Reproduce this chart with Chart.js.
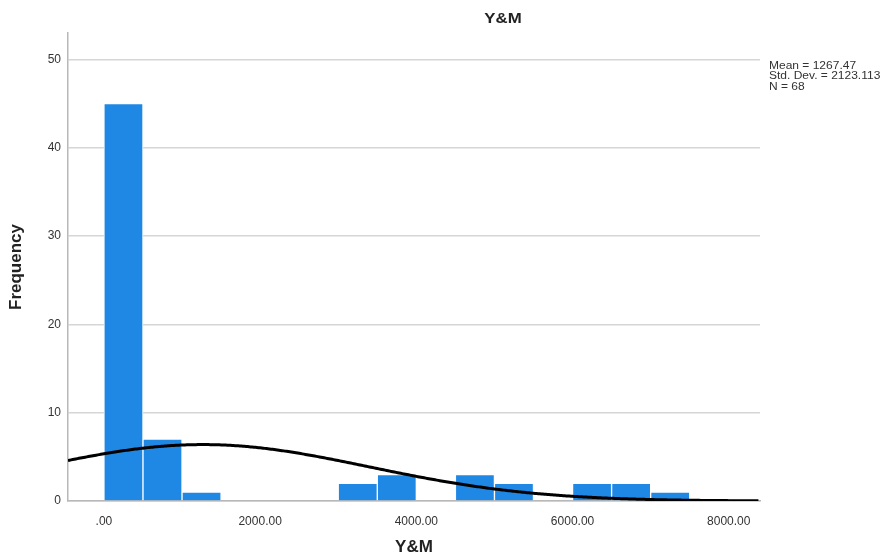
<!DOCTYPE html>
<html>
<head>
<meta charset="utf-8">
<script src="https://cdn.jsdelivr.net/npm/chart.js@4"></script>
<style>
  html, body { margin: 0; padding: 0; background: #fff; }
  #wrap { width: 890px; height: 559px; }
</style>
</head>
<body>
<div id="wrap"><canvas id="c" width="890" height="559"></canvas></div>
<script>
// Histogram of Y&M (bin width 500)
const binStarts = [0, 500, 1000, 1500, 2000, 2500, 3000, 3500, 4000, 4500, 5000, 5500, 6000, 6500, 7000];
const counts    = [45, 7, 1, 0, 0, 0, 2, 3, 0, 3, 2, 0, 2, 2, 1];
const binWidth = 500;

// Summary statistics shown beside the plot
const statMean = 1267.47;
const statSD = 2123.113;
const statN = 68;
const statLines = ['Mean = 1267.47', 'Std. Dev. = 2123.113', 'N = 68'];

const xTickValues = [0, 2000, 4000, 6000, 8000];
const xTickLabels = ['.00', '2000.00', '4000.00', '6000.00', '8000.00'];
const yTickValues = [0, 10, 20, 30, 40, 50];

const xMin = -460, xMax = 8400;
const yMin = 0, yMax = 53;

const barData = binStarts
  .map((s, i) => ({ x: s + binWidth / 2, y: counts[i] }))
  .filter(d => d.y > 0);

// Fitted normal curve, scaled to counts per bin
const curveData = [];
for (let x = xMin; x <= xMax; x += 40) {
  const z = (x - statMean) / statSD;
  const y = statN * binWidth / (statSD * Math.sqrt(2 * Math.PI)) * Math.exp(-0.5 * z * z);
  curveData.push({ x, y });
}

const FONT = "'Liberation Sans', Arial, sans-serif";

// Chart title and the statistics block (drawn slightly widened)
const annotations = {
  id: 'annotations',
  afterDraw(chart) {
    const ctx = chart.ctx;
    ctx.save();
    ctx.fillStyle = '#222';
    ctx.font = "bold 14px " + FONT;
    ctx.textAlign = 'center';
    ctx.textBaseline = 'middle';
    ctx.save();
    ctx.translate(503, 19);
    ctx.scale(1.2, 1);
    ctx.fillText('Y&M', 0, 0);
    ctx.restore();

    ctx.font = "10px " + FONT;
    ctx.fillStyle = '#333';
    ctx.textAlign = 'left';
    statLines.forEach((t, i) => {
      ctx.save();
      ctx.translate(769, 66 + i * 10.5);
      ctx.scale(1.2, 1);
      ctx.fillText(t, 0, 0);
      ctx.restore();
    });
    ctx.restore();
  }
};

new Chart(document.getElementById('c'), {
  type: 'bar',
  data: {
    datasets: [
      {
        type: 'line',
        data: curveData,
        borderColor: '#000',
        borderWidth: 3,
        pointRadius: 0,
        tension: 0.3,
        fill: false,
        order: 0
      },
      {
        type: 'bar',
        data: barData,
        backgroundColor: '#1f88e5',
        borderColor: '#ffffff',
        borderWidth: 1,
        borderSkipped: 'bottom',
        barPercentage: 1,
        categoryPercentage: 1,
        order: 1
      }
    ]
  },
  options: {
    responsive: false,
    animation: false,
    layout: { padding: { left: 0, right: 130, top: 33, bottom: 0 } },
    plugins: { legend: { display: false }, tooltip: { enabled: false }, title: { display: false } },
    scales: {
      x: {
        type: 'linear',
        min: xMin,
        max: xMax,
        offset: false,
        grid: { display: false },
        border: { display: true, color: '#b8b8b8', width: 1.5 },
        afterBuildTicks(scale) { scale.ticks = xTickValues.map(v => ({ value: v })); },
        afterFit(scale) { scale.height = 58; },
        ticks: {
          padding: 5,
          color: '#333',
          font: { family: FONT, size: 12 },
          autoSkip: false,
          maxRotation: 0,
          callback(value) {
            const i = xTickValues.indexOf(value);
            return i >= 0 ? xTickLabels[i] : '';
          }
        },
        title: {
          display: true,
          text: 'Y&M',
          color: '#222',
          font: { family: FONT, size: 17, weight: 'bold' },
          padding: { top: 0, bottom: 1 }
        }
      },
      y: {
        min: yMin,
        max: yMax,
        grid: { color: '#d6d6d6', lineWidth: 1.6, drawTicks: false },
        border: { display: true, color: '#b8b8b8', width: 1.5 },
        afterBuildTicks(scale) { scale.ticks = yTickValues.map(v => ({ value: v })); },
        afterFit(scale) { scale.width = 68; },
        ticks: {
          padding: 7,
          color: '#333',
          font: { family: FONT, size: 12 }
        },
        title: {
          display: true,
          text: 'Frequency',
          color: '#222',
          font: { family: FONT, size: 17, weight: 'bold' },
          padding: { top: 6, bottom: 0 }
        }
      }
    }
  },
  plugins: [annotations]
});
</script>
</body>
</html>
